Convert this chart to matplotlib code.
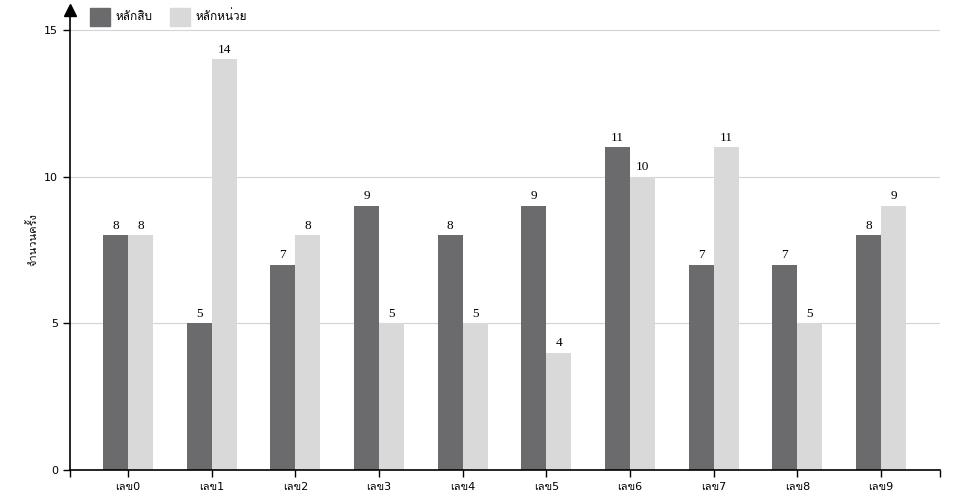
import numpy as np
import matplotlib.pyplot as plt
from matplotlib.patches import Patch

categories = ["เลข0", "เลข1", "เลข2", "เลข3", "เลข4", "เลข5", "เลข6", "เลข7", "เลข8", "เลข9"]
tens = [8, 5, 7, 9, 8, 9, 11, 7, 7, 8]
units = [8, 14, 8, 5, 5, 4, 10, 11, 5, 9]
series_names = ["หลักสิบ", "หลักหน่วย"]
colors = ["#6b6b6d", "#d9d9d9"]

plt.rcParams["font.family"] = ["DejaVu Sans", "Loma", "Noto Sans Thai"]

fig = plt.figure(figsize=(9.6, 5), dpi=100)
ax = fig.add_axes([70 / 960, 30 / 500, 870 / 960, 460 / 500])

x = np.arange(len(categories))
w = 0.3
b0 = ax.bar(x - w / 2, tens, w, color=colors[0], zorder=2)
b1 = ax.bar(x + w / 2, units, w, color=colors[1], zorder=2)

for bars, vals in [(b0, tens), (b1, units)]:
    for rect, v in zip(bars, vals):
        ax.text(rect.get_x() + rect.get_width() / 2, v + 0.12, str(v),
                ha="center", va="bottom", fontsize=9.5,
                family="Liberation Serif")

xl, xr = -0.693, 9.705
ax.set_xlim(xl, xr)
ax.set_ylim(0, 15.68)

for y in [5, 10, 15]:
    ax.axhline(y, color="#d4d4d4", lw=0.8, zorder=1)

ax.set_yticks([0, 5, 10, 15])
ax.set_xticks(list(x) + [xl, xr])
ax.set_xticklabels(categories + ["", ""])
ax.tick_params(axis="both", labelsize=8, length=5, width=1, direction="out")

for s in ["top", "right"]:
    ax.spines[s].set_visible(False)
ax.spines["left"].set_linewidth(1.2)
ax.spines["bottom"].set_linewidth(1.2)

ax.plot([xl], [15.68], marker="^", color="black", markersize=9,
        clip_on=False, zorder=5)

ax.set_ylabel("จำนวนครั้ง", fontsize=8)

handles = [Patch(color=colors[0]), Patch(color=colors[1])]
fig.legend(handles, series_names, loc="upper left", bbox_to_anchor=(79 / 960, 1.006),
           ncol=2, frameon=False, fontsize=8.5, handlelength=1.7, handleheight=2.0,
           columnspacing=1.5, handletextpad=0.45)

fig.savefig("out.png", dpi=100)
